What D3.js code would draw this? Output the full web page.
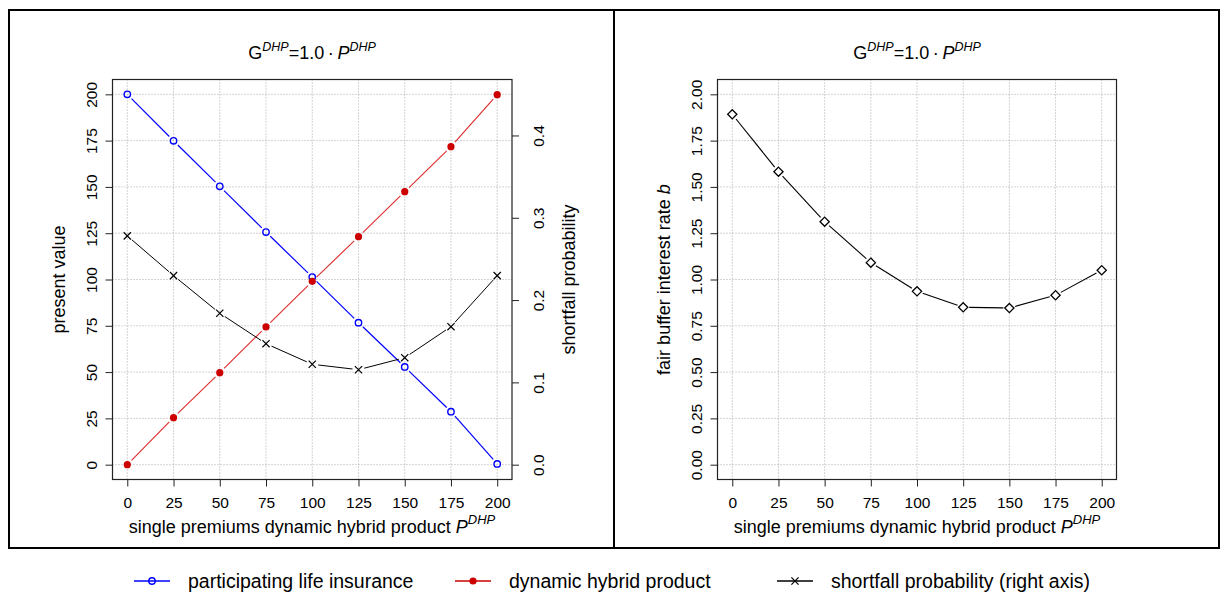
<!DOCTYPE html>
<html><head><meta charset="utf-8">
<script src="https://cdn.jsdelivr.net/npm/d3@7"></script>
<style>
html,body{margin:0;padding:0;background:#fff;}
svg{display:block;font-family:"Liberation Sans",Arial,sans-serif;}
</style></head>
<body>
<svg id="chart" width="1220" height="596"></svg>
<script>
// ---- data ----
const premiums = [0, 25, 50, 75, 100, 125, 150, 175, 200];
const participatingLife = [200, 174.9, 150.3, 125.6, 101.3, 76.7, 52.8, 28.6, 0.4];
const dynamicHybrid = [0, 25.4, 49.7, 74.4, 99.0, 123.1, 147.4, 171.7, 199.8];
const shortfallProb = [0.278, 0.2297, 0.184, 0.147, 0.122, 0.1154, 0.130, 0.1677, 0.2297];
const fairBuffer = [1.892, 1.582, 1.312, 1.091, 0.936, 0.850, 0.846, 0.915, 1.050];
const xTicks = [0, 25, 50, 75, 100, 125, 150, 175, 200];
const pvTicks = [0, 25, 50, 75, 100, 125, 150, 175, 200];
const probTicks = [0.0, 0.1, 0.2, 0.3, 0.4];
const bufferTicks = [0.00, 0.25, 0.50, 0.75, 1.00, 1.25, 1.50, 1.75, 2.00];
const legendLabels = ["participating life insurance", "dynamic hybrid product", "shortfall probability (right axis)"];

const svg = d3.select("#chart");
const BLUE = "#0000ff", RED = "#cd0000", REDLINE = "#dd2a2a", GRID = "#a8a8a8";

// outer frame
svg.append("rect").attr("x", 9).attr("y", 10).attr("width", 1210).attr("height", 538)
  .attr("fill", "none").attr("stroke", "#000").attr("stroke-width", 2);
svg.append("line").attr("x1", 614).attr("x2", 614).attr("y1", 10).attr("y2", 548)
  .attr("stroke", "#000").attr("stroke-width", 2);

function ext(d0, d1) { const p = (d1 - d0) * 0.04; return [d0 - p, d1 + p]; }

function title(g, cx) {
  const t = g.append("text").attr("x", cx).attr("y", 59).attr("text-anchor", "middle")
    .attr("font-size", 18).attr("fill", "#000");
  t.append("tspan").text("G");
  t.append("tspan").attr("font-size", 12.5).attr("font-style", "italic").attr("dy", -8).text("DHP");
  t.append("tspan").attr("dy", 8).text("=1.0\u2009\u00B7\u2009");
  t.append("tspan").attr("font-style", "italic").text("P");
  t.append("tspan").attr("font-size", 12.5).attr("font-style", "italic").attr("dy", -8).text("DHP");
}
function xTitle(g, cx) {
  const t = g.append("text").attr("x", cx).attr("y", 533).attr("text-anchor", "middle")
    .attr("font-size", 18).attr("fill", "#000");
  t.append("tspan").text("single premiums dynamic hybrid product ");
  t.append("tspan").attr("font-style", "italic").text("P");
  t.append("tspan").attr("font-size", 13).attr("font-style", "italic").attr("dy", -9).text("DHP");
}

function gapSegments(pts, gap) {
  const segs = [];
  for (let i = 0; i < pts.length - 1; i++) {
    const [x1, y1] = pts[i], [x2, y2] = pts[i + 1];
    const L = Math.hypot(x2 - x1, y2 - y1);
    if (L <= 2 * gap) continue;
    const ux = (x2 - x1) / L, uy = (y2 - y1) / L;
    segs.push([x1 + ux * gap, y1 + uy * gap, x2 - ux * gap, y2 - uy * gap]);
  }
  return segs;
}
function drawLine(g, pts, color, w) {
  g.selectAll(null).data(gapSegments(pts, 6)).enter().append("line")
    .attr("x1", d => d[0]).attr("y1", d => d[1]).attr("x2", d => d[2]).attr("y2", d => d[3])
    .attr("stroke", color).attr("stroke-width", w);
}
function marker(g, type, x, y) {
  if (type === "open") {
    g.append("circle").attr("cx", x).attr("cy", y).attr("r", 3.2)
      .attr("fill", "none").attr("stroke", BLUE).attr("stroke-width", 1.4);
  } else if (type === "filled") {
    g.append("circle").attr("cx", x).attr("cy", y).attr("r", 3.6).attr("fill", RED);
  } else if (type === "cross") {
    const s = 3.6;
    g.append("path").attr("d", `M${x - s},${y - s}L${x + s},${y + s}M${x - s},${y + s}L${x + s},${y - s}`)
      .attr("stroke", "#000").attr("stroke-width", 1.2).attr("fill", "none");
  } else if (type === "diamond") {
    const s = 4.6;
    g.append("path").attr("d", `M${x},${y - s}L${x + s},${y}L${x},${y + s}L${x - s},${y}Z`)
      .attr("stroke", "#000").attr("stroke-width", 1.3).attr("fill", "#fff");
  }
}

function panel(box, yDomain, yTicks, yFmt) {
  const g = svg.append("g");
  const x = d3.scaleLinear().domain(ext(0, 200)).range([box.l, box.r]);
  const y = d3.scaleLinear().domain(ext(yDomain[0], yDomain[1])).range([box.b, box.t]);
  // grid
  g.selectAll(null).data(xTicks).enter().append("line")
    .attr("x1", d => x(d)).attr("x2", d => x(d)).attr("y1", box.t).attr("y2", box.b)
    .attr("stroke", GRID).attr("stroke-dasharray", "1,2").attr("stroke-width", 1);
  g.selectAll(null).data(yTicks).enter().append("line")
    .attr("y1", d => y(d)).attr("y2", d => y(d)).attr("x1", box.l).attr("x2", box.r)
    .attr("stroke", GRID).attr("stroke-dasharray", "1,2").attr("stroke-width", 1);
  // x axis
  const xa = g.append("g").attr("transform", `translate(0,${box.b})`)
    .call(d3.axisBottom(x).tickValues(xTicks).tickSize(7).tickSizeOuter(0).tickFormat(d3.format("d")));
  xa.select(".domain").remove();
  xa.selectAll(".tick line").attr("stroke", "#222");
  xa.selectAll(".tick text").attr("y", 28.5).attr("dy", 0).attr("font-size", 15.5)
    .attr("font-family", "Liberation Sans, Arial, sans-serif").attr("fill", "#000");
  // y axis left
  const ya = g.append("g").attr("transform", `translate(${box.l},0)`)
    .call(d3.axisLeft(y).tickValues(yTicks).tickSize(7).tickSizeOuter(0).tickFormat(yFmt));
  ya.select(".domain").remove();
  ya.selectAll(".tick line").attr("stroke", "#222");
  ya.selectAll(".tick text").attr("transform", "rotate(-90)").attr("x", 0).attr("y", -15.5).attr("dy", 0)
    .attr("text-anchor", "middle").attr("font-size", 15.5)
    .attr("font-family", "Liberation Sans, Arial, sans-serif").attr("fill", "#000");
  return { g, x, y };
}

// ---------- left panel ----------
const boxL = { l: 112.5, r: 512, t: 79.5, b: 479.5 };
const P1 = panel(boxL, [0, 200], pvTicks, d3.format("d"));
const y2 = d3.scaleLinear().domain(ext(0, 0.45)).range([boxL.b, boxL.t]);
const ra = P1.g.append("g").attr("transform", `translate(${boxL.r},0)`)
  .call(d3.axisRight(y2).tickValues(probTicks).tickSize(7).tickSizeOuter(0).tickFormat(d3.format(".1f")));
ra.select(".domain").remove();
ra.selectAll(".tick line").attr("stroke", "#222");
ra.selectAll(".tick text").attr("transform", "rotate(-90)").attr("x", 0).attr("y", 31.5).attr("dy", 0)
  .attr("text-anchor", "middle").attr("font-size", 15.5)
  .attr("font-family", "Liberation Sans, Arial, sans-serif").attr("fill", "#000");

const ptsBlue = premiums.map((p, i) => [P1.x(p), P1.y(participatingLife[i])]);
const ptsRed = premiums.map((p, i) => [P1.x(p), P1.y(dynamicHybrid[i])]);
const ptsBlack = premiums.map((p, i) => [P1.x(p), y2(shortfallProb[i])]);
drawLine(P1.g, ptsBlue, BLUE, 1.2);
drawLine(P1.g, ptsRed, REDLINE, 1.1);
drawLine(P1.g, ptsBlack, "#000", 1);
ptsBlue.forEach(p => marker(P1.g, "open", p[0], p[1]));
ptsRed.forEach(p => marker(P1.g, "filled", p[0], p[1]));
ptsBlack.forEach(p => marker(P1.g, "cross", p[0], p[1]));
P1.g.append("rect").attr("x", boxL.l).attr("y", boxL.t).attr("width", boxL.r - boxL.l).attr("height", boxL.b - boxL.t)
  .attr("fill", "none").attr("stroke", "#222").attr("stroke-width", 1.2);

title(svg, 312);
xTitle(svg, 312);
svg.append("text").attr("transform", `translate(64.5,${(boxL.t + boxL.b) / 2}) rotate(-90)`)
  .attr("text-anchor", "middle").attr("font-size", 18).text("present value");
svg.append("text").attr("transform", `translate(575,${(boxL.t + boxL.b) / 2}) rotate(-90)`)
  .attr("text-anchor", "middle").attr("font-size", 18).text("shortfall probability");

// ---------- right panel ----------
const boxR = { l: 717.5, r: 1116.5, t: 79.5, b: 479.5 };
const P2 = panel(boxR, [0, 2], bufferTicks, d3.format(".2f"));
const ptsB = premiums.map((p, i) => [P2.x(p), P2.y(fairBuffer[i])]);
drawLine(P2.g, ptsB, "#000", 1.1);
ptsB.forEach(p => marker(P2.g, "diamond", p[0], p[1]));
P2.g.append("rect").attr("x", boxR.l).attr("y", boxR.t).attr("width", boxR.r - boxR.l).attr("height", boxR.b - boxR.t)
  .attr("fill", "none").attr("stroke", "#222").attr("stroke-width", 1.2);
title(svg, 917);
xTitle(svg, 917);
const rl = svg.append("text").attr("transform", `translate(669.5,${(boxR.t + boxR.b) / 2}) rotate(-90)`)
  .attr("text-anchor", "middle").attr("font-size", 18);
rl.append("tspan").text("fair buffer interest rate ");
rl.append("tspan").attr("font-style", "italic").text("b");

// ---------- legend ----------
const legendItems = [
  { label: legendLabels[0], type: "open", color: BLUE, x0: 134 },
  { label: legendLabels[1], type: "filled", color: RED, x0: 455 },
  { label: legendLabels[2], type: "cross", color: "#000", x0: 777 }
];
const LY = 581;
legendItems.forEach(it => {
  svg.append("line").attr("x1", it.x0).attr("x2", it.x0 + 36).attr("y1", LY).attr("y2", LY)
    .attr("stroke", it.color).attr("stroke-width", 1.6);
  marker(svg, it.type, it.x0 + 18, LY);
  svg.append("text").attr("x", it.x0 + 54).attr("y", LY + 7).attr("font-size", 19.5).text(it.label);
});
</script>
</body></html>
